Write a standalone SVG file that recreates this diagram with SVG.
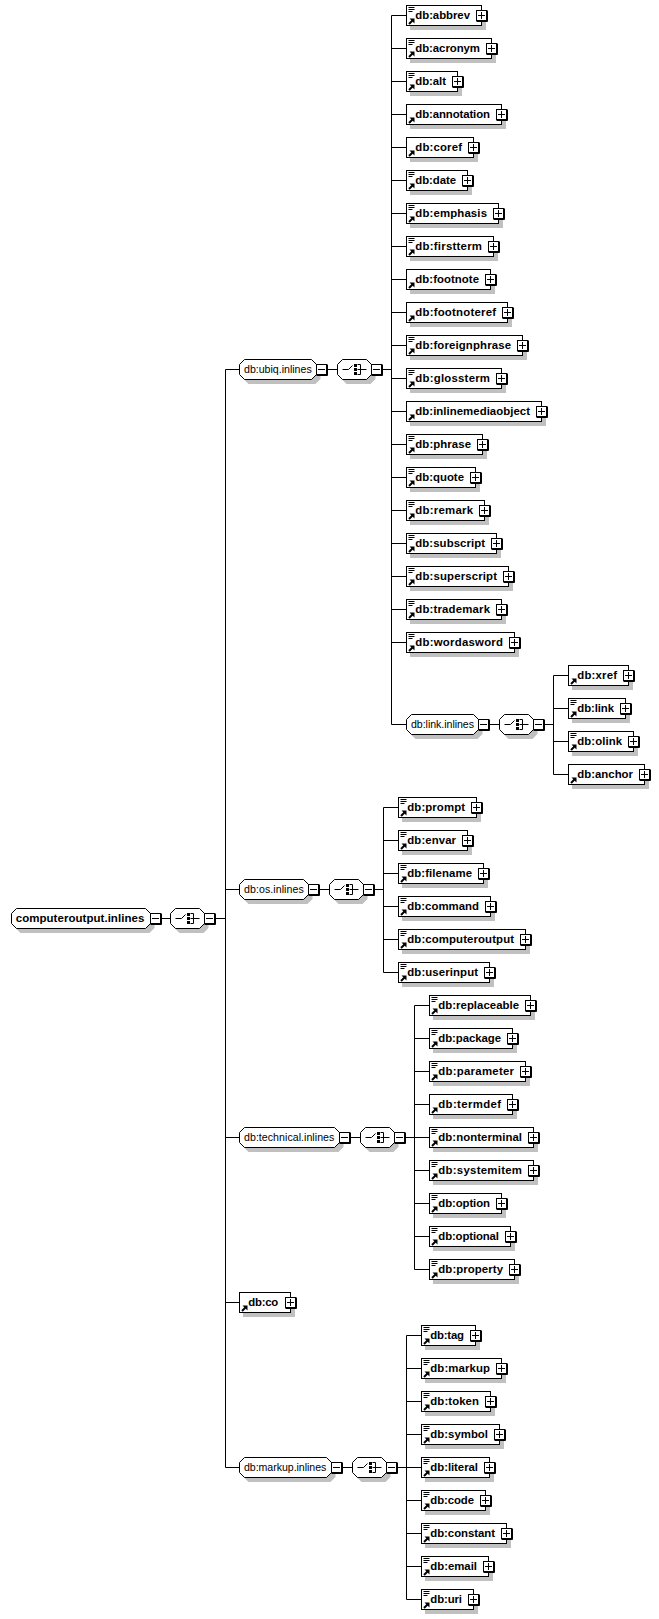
<svg xmlns="http://www.w3.org/2000/svg" width="659" height="1619" viewBox="0 0 659 1619">
<style>
text{font-family:"Liberation Sans",Arial,sans-serif;fill:#000}
.t{font-size:11.4px;font-weight:bold}
.r{font-size:11.5px;font-weight:bold}
.o{font-size:10.6px}
.s{fill:#c0c0c0;stroke:none}
.b{fill:#fff;stroke:#000;stroke-width:1}
.l{fill:none;stroke:#000;stroke-width:1}
.h{fill:none;stroke:#000;stroke-width:2}
</style>
<defs>
<g id="d"><path class="l" d="M2 2H8M2 4H8M2 6H6"/></g>
<g id="a"><path d="M3 13H8V18Z"/><path class="h" d="M2.5 18.5L6 15"/></g>
<g id="p"><rect class="b" x="-5" y="-5" width="10" height="10"/><path class="l" d="M6 -5V6H-5M-3.5 0H3.5M0 -3.5V3.5"/></g>
<g id="m"><rect class="b" x="-5" y="-5" width="10" height="10"/><path class="l" d="M6 -5V6H-5M-3.5 0H3.5"/></g>
<g id="q"><path class="s" transform="translate(4 4.5)" d="M5 0H29L34 5V15L29 20H5L0 15V5Z"/><path class="b" d="M5 0H29L34 5V15L29 20H5L0 15V5Z"/><path class="l" d="M5 10H11L15 6M20 5H23V15H20M20 10H29"/><rect x="16.5" y="4.5" width="3" height="3"/><rect x="16.5" y="8.5" width="3" height="3"/><rect x="16.5" y="12.5" width="3" height="3"/><use href="#m" x="39" y="10"/></g>
</defs>
<g id="connectors" class="l">
<path class="l" d="M160 918.5H171M215 918.5H225.5M225.5 369.5V1467.5M225.5 369.5H240M225.5 889.5H240M225.5 1137.5H240M225.5 1302.5H240M225.5 1467.5H240"/>
<path class="l" d="M327 369.5H338M381 369.5H391.5M391.5 15.5V724.5H407M391.5 15.5H407M391.5 48.5H407M391.5 81.5H407M391.5 114.5H407M391.5 147.5H407M391.5 180.5H407M391.5 213.5H407M391.5 246.5H407M391.5 279.5H407M391.5 312.5H407M391.5 345.5H407M391.5 378.5H407M391.5 411.5H407M391.5 444.5H407M391.5 477.5H407M391.5 510.5H407M391.5 543.5H407M391.5 576.5H407M391.5 609.5H407M391.5 642.5H407"/>
<path class="l" d="M489 724.5H500M543 724.5H553.5M553.5 675.5V774.5H569M553.5 675.5H569M553.5 708.5H569M553.5 741.5H569"/>
<path class="l" d="M319 889.5H330M373 889.5H383.5M383.5 807.5V972.5H399M383.5 807.5H399M383.5 840.5H399M383.5 873.5H399M383.5 906.5H399M383.5 939.5H399"/>
<path class="l" d="M350 1137.5H361M404 1137.5H414.5M414.5 1005.5V1269.5H430M414.5 1005.5H430M414.5 1038.5H430M414.5 1071.5H430M414.5 1104.5H430M414.5 1137.5H430M414.5 1170.5H430M414.5 1203.5H430M414.5 1236.5H430"/>
<path class="l" d="M342 1467.5H353M396 1467.5H406.5M406.5 1335.5V1599.5H422M406.5 1335.5H422M406.5 1368.5H422M406.5 1401.5H422M406.5 1434.5H422M406.5 1467.5H422M406.5 1500.5H422M406.5 1533.5H422M406.5 1566.5H422"/>
</g>
<g id="computeroutput.inlines" transform="translate(11.5 908.5)"><path class="s" transform="translate(4 4.5)" d="M5 0H134L139 5V15L134 20H5L0 15V5Z"/><path class="b" d="M5 0H134L139 5V15L134 20H5L0 15V5Z"/><text class="r" x="4.2" y="13.5" textLength="128.6">computeroutput.inlines</text><use href="#m" x="144" y="10"/></g>
<g id="seq-root" transform="translate(170.5 908.5)"><use href="#q"/></g>

<g id="db.ubiq.inlines" transform="translate(239.5 359.5)"><path class="s" transform="translate(4 4.5)" d="M5 0H72L77 5V15L72 20H5L0 15V5Z"/><path class="b" d="M5 0H72L77 5V15L72 20H5L0 15V5Z"/><text class="o" x="4.5" y="13.5" textLength="67.7">db:ubiq.inlines</text><use href="#m" x="82" y="10"/></g>
<g id="seq-ubiq" transform="translate(337.5 359.5)"><use href="#q"/></g>

<g id="db.abbrev" transform="translate(406.5 5.5)"><rect class="s" x="3.5" y="4.5" width="76" height="20"/><rect class="b" width="75" height="20"/><use href="#d"/><use href="#a"/><text class="t" x="8.8" y="13.5" textLength="54.7">db:abbrev</text><use href="#p" x="75" y="10"/></g>
<g id="db.acronym" transform="translate(406.5 38.5)"><rect class="s" x="3.5" y="4.5" width="86" height="20"/><rect class="b" width="85" height="20"/><use href="#d"/><use href="#a"/><text class="t" x="8.8" y="13.5" textLength="64.7">db:acronym</text><use href="#p" x="85" y="10"/></g>
<g id="db.alt" transform="translate(406.5 71.5)"><rect class="s" x="3.5" y="4.5" width="52" height="20"/><rect class="b" width="51" height="20"/><use href="#d"/><use href="#a"/><text class="t" x="8.8" y="13.5" textLength="30.7">db:alt</text><use href="#p" x="51" y="10"/></g>
<g id="db.annotation" transform="translate(406.5 104.5)"><rect class="s" x="3.5" y="4.5" width="96" height="20"/><rect class="b" width="95" height="20"/><use href="#a"/><text class="t" x="8.8" y="13.5" textLength="74.7">db:annotation</text><use href="#p" x="95" y="10"/></g>
<g id="db.coref" transform="translate(406.5 137.5)"><rect class="s" x="3.5" y="4.5" width="68" height="20"/><rect class="b" width="67" height="20"/><use href="#a"/><text class="t" x="8.8" y="13.5" textLength="46.7">db:coref</text><use href="#p" x="67" y="10"/></g>
<g id="db.date" transform="translate(406.5 170.5)"><rect class="s" x="3.5" y="4.5" width="62" height="20"/><rect class="b" width="61" height="20"/><use href="#d"/><use href="#a"/><text class="t" x="8.8" y="13.5" textLength="40.7">db:date</text><use href="#p" x="61" y="10"/></g>
<g id="db.emphasis" transform="translate(406.5 203.5)"><rect class="s" x="3.5" y="4.5" width="93" height="20"/><rect class="b" width="92" height="20"/><use href="#d"/><use href="#a"/><text class="t" x="8.8" y="13.5" textLength="71.7">db:emphasis</text><use href="#p" x="92" y="10"/></g>
<g id="db.firstterm" transform="translate(406.5 236.5)"><rect class="s" x="3.5" y="4.5" width="88" height="20"/><rect class="b" width="87" height="20"/><use href="#d"/><use href="#a"/><text class="t" x="8.8" y="13.5" textLength="66.7">db:firstterm</text><use href="#p" x="87" y="10"/></g>
<g id="db.footnote" transform="translate(406.5 269.5)"><rect class="s" x="3.5" y="4.5" width="85" height="20"/><rect class="b" width="84" height="20"/><use href="#a"/><text class="t" x="8.8" y="13.5" textLength="63.7">db:footnote</text><use href="#p" x="84" y="10"/></g>
<g id="db.footnoteref" transform="translate(406.5 302.5)"><rect class="s" x="3.5" y="4.5" width="102" height="20"/><rect class="b" width="101" height="20"/><use href="#a"/><text class="t" x="8.8" y="13.5" textLength="80.7">db:footnoteref</text><use href="#p" x="101" y="10"/></g>
<g id="db.foreignphrase" transform="translate(406.5 335.5)"><rect class="s" x="3.5" y="4.5" width="117" height="20"/><rect class="b" width="116" height="20"/><use href="#d"/><use href="#a"/><text class="t" x="8.8" y="13.5" textLength="95.7">db:foreignphrase</text><use href="#p" x="116" y="10"/></g>
<g id="db.glossterm" transform="translate(406.5 368.5)"><rect class="s" x="3.5" y="4.5" width="96" height="20"/><rect class="b" width="95" height="20"/><use href="#d"/><use href="#a"/><text class="t" x="8.8" y="13.5" textLength="74.7">db:glossterm</text><use href="#p" x="95" y="10"/></g>
<g id="db.inlinemediaobject" transform="translate(406.5 401.5)"><rect class="s" x="3.5" y="4.5" width="136" height="20"/><rect class="b" width="135" height="20"/><use href="#a"/><text class="t" x="8.8" y="13.5" textLength="114.7">db:inlinemediaobject</text><use href="#p" x="135" y="10"/></g>
<g id="db.phrase" transform="translate(406.5 434.5)"><rect class="s" x="3.5" y="4.5" width="77" height="20"/><rect class="b" width="76" height="20"/><use href="#d"/><use href="#a"/><text class="t" x="8.8" y="13.5" textLength="55.7">db:phrase</text><use href="#p" x="76" y="10"/></g>
<g id="db.quote" transform="translate(406.5 467.5)"><rect class="s" x="3.5" y="4.5" width="70" height="20"/><rect class="b" width="69" height="20"/><use href="#d"/><use href="#a"/><text class="t" x="8.8" y="13.5" textLength="48.7">db:quote</text><use href="#p" x="69" y="10"/></g>
<g id="db.remark" transform="translate(406.5 500.5)"><rect class="s" x="3.5" y="4.5" width="79" height="20"/><rect class="b" width="78" height="20"/><use href="#d"/><use href="#a"/><text class="t" x="8.8" y="13.5" textLength="57.7">db:remark</text><use href="#p" x="78" y="10"/></g>
<g id="db.subscript" transform="translate(406.5 533.5)"><rect class="s" x="3.5" y="4.5" width="91" height="20"/><rect class="b" width="90" height="20"/><use href="#d"/><use href="#a"/><text class="t" x="8.8" y="13.5" textLength="69.7">db:subscript</text><use href="#p" x="90" y="10"/></g>
<g id="db.superscript" transform="translate(406.5 566.5)"><rect class="s" x="3.5" y="4.5" width="103" height="20"/><rect class="b" width="102" height="20"/><use href="#d"/><use href="#a"/><text class="t" x="8.8" y="13.5" textLength="81.7">db:superscript</text><use href="#p" x="102" y="10"/></g>
<g id="db.trademark" transform="translate(406.5 599.5)"><rect class="s" x="3.5" y="4.5" width="96" height="20"/><rect class="b" width="95" height="20"/><use href="#d"/><use href="#a"/><text class="t" x="8.8" y="13.5" textLength="74.7">db:trademark</text><use href="#p" x="95" y="10"/></g>
<g id="db.wordasword" transform="translate(406.5 632.5)"><rect class="s" x="3.5" y="4.5" width="109" height="20"/><rect class="b" width="108" height="20"/><use href="#d"/><use href="#a"/><text class="t" x="8.8" y="13.5" textLength="87.7">db:wordasword</text><use href="#p" x="108" y="10"/></g>

<g id="db.link.inlines" transform="translate(406.5 714.5)"><path class="s" transform="translate(4 4.5)" d="M5 0H67L72 5V15L67 20H5L0 15V5Z"/><path class="b" d="M5 0H67L72 5V15L67 20H5L0 15V5Z"/><text class="o" x="4.5" y="13.5" textLength="63">db:link.inlines</text><use href="#m" x="77" y="10"/></g>
<g id="seq-link" transform="translate(499.5 714.5)"><use href="#q"/></g>
<g id="db.xref" transform="translate(568.5 665.5)"><rect class="s" x="3.5" y="4.5" width="61" height="20"/><rect class="b" width="60" height="20"/><use href="#a"/><text class="t" x="8.8" y="13.5" textLength="39.7">db:xref</text><use href="#p" x="60" y="10"/></g>
<g id="db.link" transform="translate(568.5 698.5)"><rect class="s" x="3.5" y="4.5" width="58" height="20"/><rect class="b" width="57" height="20"/><use href="#d"/><use href="#a"/><text class="t" x="8.8" y="13.5" textLength="36.7">db:link</text><use href="#p" x="57" y="10"/></g>
<g id="db.olink" transform="translate(568.5 731.5)"><rect class="s" x="3.5" y="4.5" width="66" height="20"/><rect class="b" width="65" height="20"/><use href="#d"/><use href="#a"/><text class="t" x="8.8" y="13.5" textLength="44.7">db:olink</text><use href="#p" x="65" y="10"/></g>
<g id="db.anchor" transform="translate(568.5 764.5)"><rect class="s" x="3.5" y="4.5" width="77" height="20"/><rect class="b" width="76" height="20"/><use href="#a"/><text class="t" x="8.8" y="13.5" textLength="55.7">db:anchor</text><use href="#p" x="76" y="10"/></g>

<g id="db.os.inlines" transform="translate(239.5 879.5)"><path class="s" transform="translate(4 4.5)" d="M5 0H64L69 5V15L64 20H5L0 15V5Z"/><path class="b" d="M5 0H64L69 5V15L64 20H5L0 15V5Z"/><text class="o" x="4.5" y="13.5" textLength="59.7">db:os.inlines</text><use href="#m" x="74" y="10"/></g>
<g id="seq-os" transform="translate(329.5 879.5)"><use href="#q"/></g>
<g id="db.prompt" transform="translate(398.5 797.5)"><rect class="s" x="3.5" y="4.5" width="79" height="20"/><rect class="b" width="78" height="20"/><use href="#d"/><use href="#a"/><text class="t" x="8.8" y="13.5" textLength="57.7">db:prompt</text><use href="#p" x="78" y="10"/></g>
<g id="db.envar" transform="translate(398.5 830.5)"><rect class="s" x="3.5" y="4.5" width="70" height="20"/><rect class="b" width="69" height="20"/><use href="#d"/><use href="#a"/><text class="t" x="8.8" y="13.5" textLength="48.7">db:envar</text><use href="#p" x="69" y="10"/></g>
<g id="db.filename" transform="translate(398.5 863.5)"><rect class="s" x="3.5" y="4.5" width="86" height="20"/><rect class="b" width="85" height="20"/><use href="#d"/><use href="#a"/><text class="t" x="8.8" y="13.5" textLength="64.7">db:filename</text><use href="#p" x="85" y="10"/></g>
<g id="db.command" transform="translate(398.5 896.5)"><rect class="s" x="3.5" y="4.5" width="93" height="20"/><rect class="b" width="92" height="20"/><use href="#d"/><use href="#a"/><text class="t" x="8.8" y="13.5" textLength="71.7">db:command</text><use href="#p" x="92" y="10"/></g>
<g id="db.computeroutput" transform="translate(398.5 929.5)"><rect class="s" x="3.5" y="4.5" width="128" height="20"/><rect class="b" width="127" height="20"/><use href="#d"/><use href="#a"/><text class="t" x="8.8" y="13.5" textLength="106.7">db:computeroutput</text><use href="#p" x="127" y="10"/></g>
<g id="db.userinput" transform="translate(398.5 962.5)"><rect class="s" x="3.5" y="4.5" width="92" height="20"/><rect class="b" width="91" height="20"/><use href="#d"/><use href="#a"/><text class="t" x="8.8" y="13.5" textLength="70.7">db:userinput</text><use href="#p" x="91" y="10"/></g>

<g id="db.technical.inlines" transform="translate(239.5 1127.5)"><path class="s" transform="translate(4 4.5)" d="M5 0H95L100 5V15L95 20H5L0 15V5Z"/><path class="b" d="M5 0H95L100 5V15L95 20H5L0 15V5Z"/><text class="o" x="4.5" y="13.5" textLength="90.3">db:technical.inlines</text><use href="#m" x="105" y="10"/></g>
<g id="seq-technical" transform="translate(360.5 1127.5)"><use href="#q"/></g>
<g id="db.replaceable" transform="translate(429.5 995.5)"><rect class="s" x="3.5" y="4.5" width="102" height="20"/><rect class="b" width="101" height="20"/><use href="#d"/><use href="#a"/><text class="t" x="8.8" y="13.5" textLength="80.7">db:replaceable</text><use href="#p" x="101" y="10"/></g>
<g id="db.package" transform="translate(429.5 1028.5)"><rect class="s" x="3.5" y="4.5" width="84" height="20"/><rect class="b" width="83" height="20"/><use href="#d"/><use href="#a"/><text class="t" x="8.8" y="13.5" textLength="62.7">db:package</text><use href="#p" x="83" y="10"/></g>
<g id="db.parameter" transform="translate(429.5 1061.5)"><rect class="s" x="3.5" y="4.5" width="97" height="20"/><rect class="b" width="96" height="20"/><use href="#d"/><use href="#a"/><text class="t" x="8.8" y="13.5" textLength="75.7">db:parameter</text><use href="#p" x="96" y="10"/></g>
<g id="db.termdef" transform="translate(429.5 1094.5)"><rect class="s" x="3.5" y="4.5" width="84" height="20"/><rect class="b" width="83" height="20"/><use href="#a"/><text class="t" x="8.8" y="13.5" textLength="62.7">db:termdef</text><use href="#p" x="83" y="10"/></g>
<g id="db.nonterminal" transform="translate(429.5 1127.5)"><rect class="s" x="3.5" y="4.5" width="105" height="20"/><rect class="b" width="104" height="20"/><use href="#d"/><use href="#a"/><text class="t" x="8.8" y="13.5" textLength="83.7">db:nonterminal</text><use href="#p" x="104" y="10"/></g>
<g id="db.systemitem" transform="translate(429.5 1160.5)"><rect class="s" x="3.5" y="4.5" width="105" height="20"/><rect class="b" width="104" height="20"/><use href="#d"/><use href="#a"/><text class="t" x="8.8" y="13.5" textLength="83.7">db:systemitem</text><use href="#p" x="104" y="10"/></g>
<g id="db.option" transform="translate(429.5 1193.5)"><rect class="s" x="3.5" y="4.5" width="73" height="20"/><rect class="b" width="72" height="20"/><use href="#d"/><use href="#a"/><text class="t" x="8.8" y="13.5" textLength="51.7">db:option</text><use href="#p" x="72" y="10"/></g>
<g id="db.optional" transform="translate(429.5 1226.5)"><rect class="s" x="3.5" y="4.5" width="82" height="20"/><rect class="b" width="81" height="20"/><use href="#d"/><use href="#a"/><text class="t" x="8.8" y="13.5" textLength="60.7">db:optional</text><use href="#p" x="81" y="10"/></g>
<g id="db.property" transform="translate(429.5 1259.5)"><rect class="s" x="3.5" y="4.5" width="86" height="20"/><rect class="b" width="85" height="20"/><use href="#d"/><use href="#a"/><text class="t" x="8.8" y="13.5" textLength="64.7">db:property</text><use href="#p" x="85" y="10"/></g>

<g id="db.co" transform="translate(239.5 1292.5)"><rect class="s" x="3.5" y="4.5" width="52" height="20"/><rect class="b" width="51" height="20"/><use href="#a"/><text class="t" x="8.8" y="13.5" textLength="30">db:co</text><use href="#p" x="51" y="10"/></g>

<g id="db.markup.inlines" transform="translate(239.5 1457.5)"><path class="s" transform="translate(4 4.5)" d="M5 0H87L92 5V15L87 20H5L0 15V5Z"/><path class="b" d="M5 0H87L92 5V15L87 20H5L0 15V5Z"/><text class="o" x="4.5" y="13.5" textLength="82.3">db:markup.inlines</text><use href="#m" x="97" y="10"/></g>
<g id="seq-markup" transform="translate(352.5 1457.5)"><use href="#q"/></g>
<g id="db.tag" transform="translate(421.5 1325.5)"><rect class="s" x="3.5" y="4.5" width="55" height="20"/><rect class="b" width="54" height="20"/><use href="#d"/><use href="#a"/><text class="t" x="8.8" y="13.5" textLength="33.7">db:tag</text><use href="#p" x="54" y="10"/></g>
<g id="db.markup" transform="translate(421.5 1358.5)"><rect class="s" x="3.5" y="4.5" width="81" height="20"/><rect class="b" width="80" height="20"/><use href="#d"/><use href="#a"/><text class="t" x="8.8" y="13.5" textLength="59.7">db:markup</text><use href="#p" x="80" y="10"/></g>
<g id="db.token" transform="translate(421.5 1391.5)"><rect class="s" x="3.5" y="4.5" width="70" height="20"/><rect class="b" width="69" height="20"/><use href="#d"/><use href="#a"/><text class="t" x="8.8" y="13.5" textLength="48.7">db:token</text><use href="#p" x="69" y="10"/></g>
<g id="db.symbol" transform="translate(421.5 1424.5)"><rect class="s" x="3.5" y="4.5" width="79" height="20"/><rect class="b" width="78" height="20"/><use href="#d"/><use href="#a"/><text class="t" x="8.8" y="13.5" textLength="57.7">db:symbol</text><use href="#p" x="78" y="10"/></g>
<g id="db.literal" transform="translate(421.5 1457.5)"><rect class="s" x="3.5" y="4.5" width="69" height="20"/><rect class="b" width="68" height="20"/><use href="#d"/><use href="#a"/><text class="t" x="8.8" y="13.5" textLength="47.7">db:literal</text><use href="#p" x="68" y="10"/></g>
<g id="db.code" transform="translate(421.5 1490.5)"><rect class="s" x="3.5" y="4.5" width="65" height="20"/><rect class="b" width="64" height="20"/><use href="#d"/><use href="#a"/><text class="t" x="8.8" y="13.5" textLength="43.7">db:code</text><use href="#p" x="64" y="10"/></g>
<g id="db.constant" transform="translate(421.5 1523.5)"><rect class="s" x="3.5" y="4.5" width="86" height="20"/><rect class="b" width="85" height="20"/><use href="#d"/><use href="#a"/><text class="t" x="8.8" y="13.5" textLength="64.7">db:constant</text><use href="#p" x="85" y="10"/></g>
<g id="db.email" transform="translate(421.5 1556.5)"><rect class="s" x="3.5" y="4.5" width="68" height="20"/><rect class="b" width="67" height="20"/><use href="#d"/><use href="#a"/><text class="t" x="8.8" y="13.5" textLength="46.7">db:email</text><use href="#p" x="67" y="10"/></g>
<g id="db.uri" transform="translate(421.5 1589.5)"><rect class="s" x="3.5" y="4.5" width="53" height="20"/><rect class="b" width="52" height="20"/><use href="#d"/><use href="#a"/><text class="t" x="8.8" y="13.5" textLength="31.7">db:uri</text><use href="#p" x="52" y="10"/></g>
</svg>
